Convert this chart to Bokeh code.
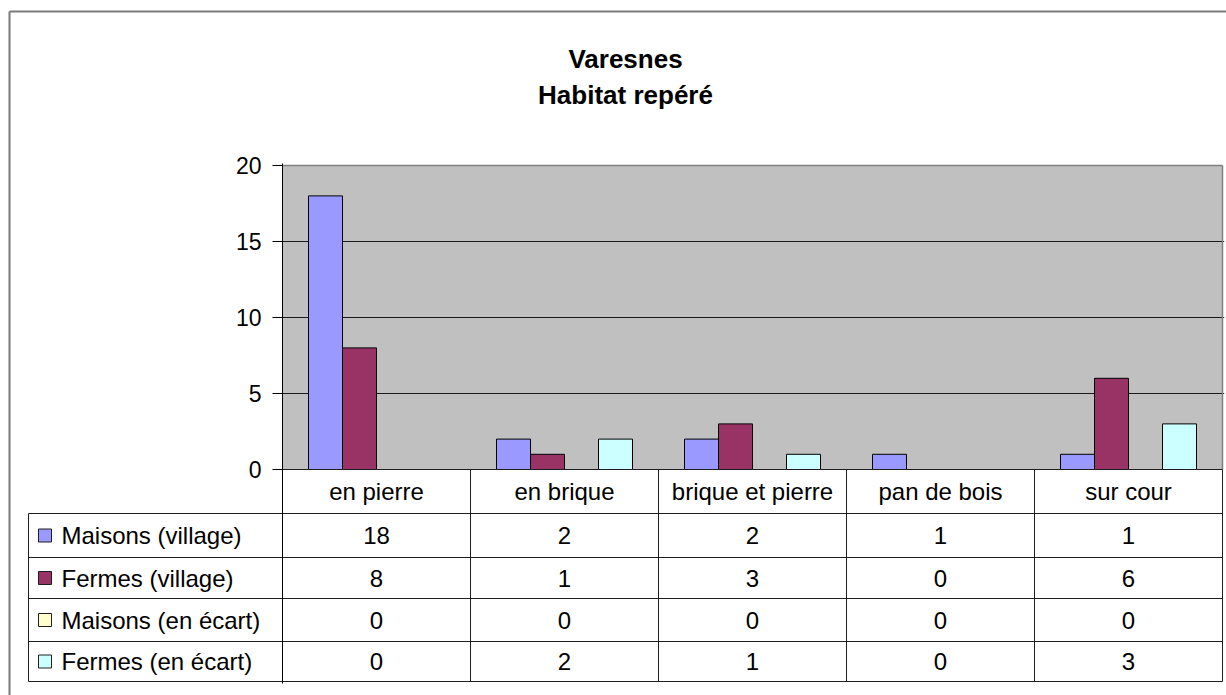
from bokeh.plotting import figure
from bokeh.models import Range1d, FixedTicker, ColumnDataSource, Column
from bokeh.core.properties import value
from bokeh.embed import file_html
from bokeh.resources import INLINE

# ---------------- data ----------------
categories = ["en pierre", "en brique", "brique et pierre", "pan de bois", "sur cour"]
series_names = ["Maisons (village)", "Fermes (village)", "Maisons (en écart)", "Fermes (en écart)"]
maisons_village = [18, 2, 2, 1, 1]
fermes_village = [8, 1, 3, 0, 6]
maisons_ecart = [0, 0, 0, 0, 0]
fermes_ecart = [0, 2, 1, 0, 3]
y_ticks = [0, 5, 10, 15, 20]
grid_ticks = [5, 10, 15]
title_lines = ["Varesnes", "Habitat repéré"]

series_values = [maisons_village, fermes_village, maisons_ecart, fermes_ecart]
colors = ["#9999FF", "#993366", "#FFFFCC", "#CCFFFF"]

FONT = "Liberation Sans"
FS_TABLE = "24px"
FS_TICK = "23px"
FS_TITLE = "26px"
LINE_COL = "#1e1e1e"

# ---------------- layout geometry (pixel coords) ----------------
W, H = 1226, 695
CAT_PX = 188.0      # width of one category column
UNIT_PX = 15.2      # pixels per y unit
X0_PX = 282         # x of category 0 left edge / value axis
Y0_PX = 469         # y of value 0
FRAME_L, FRAME_R, FRAME_T, FRAME_B = 282, 1224, 163, 683
ROWS = [469, 513, 557, 598, 641, 681]


def xr(px):
    return (px - X0_PX) / CAT_PX


def yr(py):
    return (Y0_PX - py) / UNIT_PX


n_cat = len(categories)

# ================= back layer: frame, title, label column =================
back = figure(width=W, height=H, output_backend="svg", toolbar_location=None,
              x_range=Range1d(0, W), y_range=Range1d(H, 0),
              min_border=0, x_axis_location=None, y_axis_location=None, title=None)
back.outline_line_color = None
back.grid.visible = False
back.background_fill_color = "white"
back.border_fill_color = "white"

# outer chart border (left and top edges visible in the crop)
back.segment(x0=[9, 9], y0=[11, 11], x1=[W + 5, 9], y1=[11, H + 5],
             line_color="#7a7a7a", line_width=2)

# title
back.text(x=[625, 625], y=[58, 94.5], text=title_lines, text_align="center",
          text_baseline="alphabetic", text_font=value(FONT), text_font_size=value(FS_TITLE),
          text_font_style="bold", text_color="black")

# label column of the data table
lx0, ly0, lx1, ly1 = [], [], [], []
for r in ROWS[1:]:
    lx0.append(28); lx1.append(282); ly0.append(r); ly1.append(r)
lx0.append(28); lx1.append(28); ly0.append(ROWS[1]); ly1.append(ROWS[-1])
back.segment(x0=lx0, y0=ly0, x1=lx1, y1=ly1, line_color=LINE_COL, line_width=1)

centers = [(ROWS[r + 1] + ROWS[r + 2]) / 2 for r in range(len(series_names))]
back.rect(x=[44.5] * len(centers), y=centers, width=13, height=13,
          fill_color=colors, line_color=LINE_COL, line_width=1)
back.text(x=[61] * len(centers), y=centers, text=series_names, text_align="left",
          text_baseline="middle", text_font=value(FONT), text_font_size=value(FS_TABLE),
          text_color="black")

# ================= front layer: chart + table values =================
p = figure(width=W, height=H, output_backend="svg", toolbar_location=None,
           x_range=Range1d(xr(FRAME_L), xr(FRAME_R)),
           y_range=Range1d(yr(FRAME_B), yr(FRAME_T)),
           min_border_left=FRAME_L, min_border_right=W - FRAME_R,
           min_border_top=FRAME_T, min_border_bottom=H - FRAME_B,
           x_axis_location=None, title=None)
p.outline_line_color = None
p.background_fill_color = None
p.border_fill_color = None
p.xgrid.visible = False
p.ygrid.ticker = FixedTicker(ticks=grid_ticks)
p.ygrid.grid_line_color = "#1a1a1a"
p.ygrid.grid_line_width = 1

ax = p.yaxis[0]
ax.ticker = FixedTicker(ticks=y_ticks)
ax.axis_line_color = "black"
ax.major_tick_line_color = "black"
ax.major_tick_out = 10
ax.major_tick_in = 0
ax.minor_tick_line_color = None
ax.major_label_text_font = FONT
ax.major_label_text_font_size = FS_TICK
ax.major_label_text_color = "black"
ax.major_label_standoff = 11

# gray plot area
bg = p.quad(left=[0], right=[n_cat], bottom=[0], top=[max(y_ticks)],
            fill_color="#C0C0C0", line_color=None)
bg.level = "image"
# plot area border (top and right)
p.segment(x0=[0, n_cat], y0=[max(y_ticks), max(y_ticks)], x1=[n_cat, n_cat], y1=[max(y_ticks), 0],
          line_color="#808080", line_width=1.5)

# bars
bw = 34.0 / CAT_PX
for k, (vals, col) in enumerate(zip(series_values, colors)):
    xs = [i + 0.5 + (k - 1.5) * bw for i in range(n_cat)]
    src = ColumnDataSource(dict(x=xs, top=vals))
    p.vbar(x="x", top="top", bottom=0, width=bw, source=src,
           fill_color=col, line_color="black", line_width=1)

# table grid inside the value columns
hx0, hy0, hx1, hy1 = [], [], [], []
for r in ROWS:
    hx0.append(0); hx1.append(n_cat); hy0.append(yr(r)); hy1.append(yr(r))
for i in range(1, n_cat + 1):
    hx0.append(i); hx1.append(i); hy0.append(yr(ROWS[0])); hy1.append(yr(ROWS[-1]))
p.segment(x0=hx0, y0=hy0, x1=hx1, y1=hy1, line_color=LINE_COL, line_width=1)

# header row (category names)
hdr = ColumnDataSource(dict(x=[i + 0.5 for i in range(n_cat)],
                            y=[yr((ROWS[0] + ROWS[1]) / 2)] * n_cat,
                            t=categories))
p.text(x="x", y="y", text="t", source=hdr, text_align="center", text_baseline="middle",
       text_font=value(FONT), text_font_size=value(FS_TABLE), text_color="black")

# value cells
cx, cy, ct = [], [], []
for r, vals in enumerate(series_values):
    yc = yr((ROWS[r + 1] + ROWS[r + 2]) / 2)
    for i, v in enumerate(vals):
        cx.append(i + 0.5); cy.append(yc); ct.append(str(v))
p.text(x=cx, y=cy, text=ct, text_align="center", text_baseline="middle",
       text_font=value(FONT), text_font_size=value(FS_TABLE), text_color="black")

# stack the two layers: the chart layer is pulled up over the background layer
layout = Column(children=[Column(children=[back]),
                          Column(children=[p], margin=(-H, 0, 0, 0))])

open("out.html", "w").write(file_html(layout, INLINE))
